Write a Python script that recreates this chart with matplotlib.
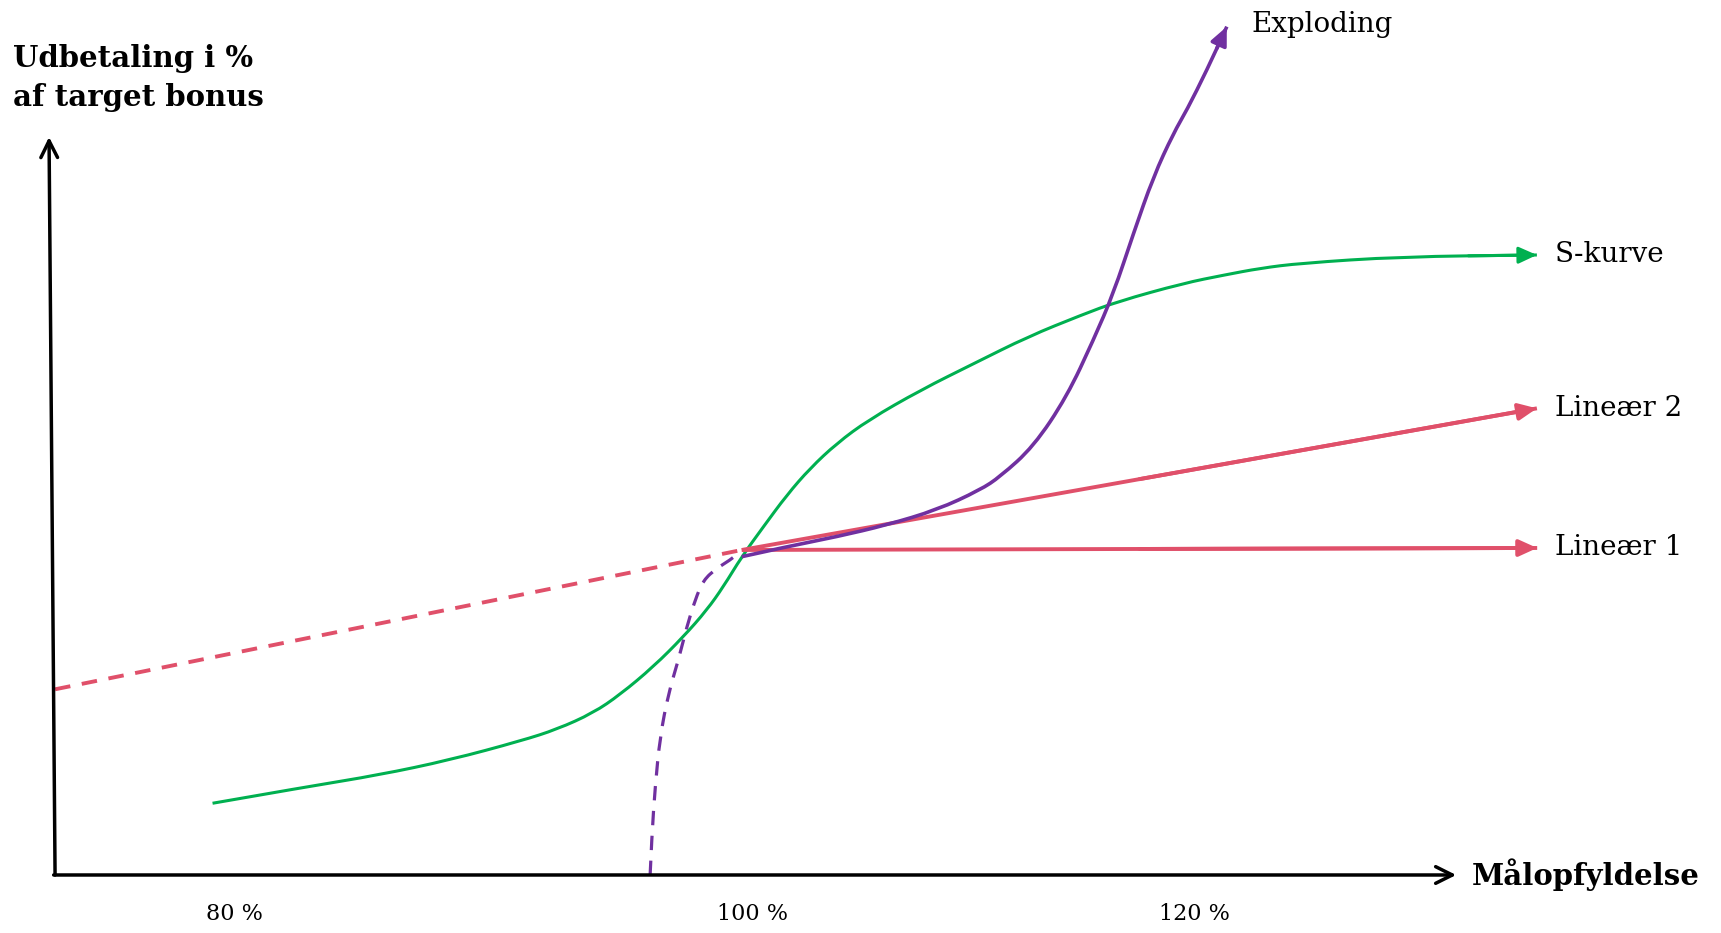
import matplotlib
matplotlib.use("Agg")
import matplotlib.pyplot as plt
from matplotlib.path import Path
from matplotlib.patches import PathPatch

plt.rcParams['font.family'] = ['DejaVu Serif']

# x: Målopfyldelse (x-axis length = 100), y: udbetaling (y-axis height = 100)
tick_pos = [12.8, 49.8, 81.3]
tick_labels = ['80 %', '100 %', '120 %']

dashed_x = [0.0, 49.01]
dashed_y = [25.16, 44.04]

lin1_x = [49.01, 105.78]
lin1_y = [44.04, 44.31]

lin2_x = [49.01, 105.76]
lin2_y = [44.04, 63.23]

s_x = [11.24, 17.99, 23.10, 28.19, 33.29, 35.83, 38.40, 40.33, 42.71, 44.85,
       46.52, 47.70, 49.01, 50.56, 52.23, 53.89, 55.80, 58.05, 61.79, 65.62,
       69.44, 73.26, 75.80, 80.54, 83.46, 86.01, 88.87, 96.00, 105.76]
s_y = [9.72, 11.96, 13.55, 15.59, 18.2, 19.75, 21.95, 24.45, 28.23, 32.29,
       35.91, 39.07, 43.13, 47.20, 51.49, 55.11, 58.50, 61.65, 65.72, 69.34,
       72.94, 75.88, 77.68, 80.18, 81.30, 82.21, 82.89, 83.78, 84.01]

exp_dash_x = [42.47, 42.59, 42.83, 43.18, 43.78, 44.49, 45.09, 45.68, 46.27,
              47.23, 48.18, 48.77, 49.01]
exp_dash_y = [0.0, 5.19, 11.96, 18.74, 24.62, 29.13, 33.64, 37.26, 39.97,
              41.56, 42.68, 43.59, 43.2]

exp_x = [49.01, 52.23, 55.80, 59.36, 62.93, 66.02, 67.45, 69.83, 72.21,
         74.11, 75.54, 76.97, 78.39, 79.82, 80.78, 82.21, 83.63]
exp_y = [43.13, 44.49, 45.84, 47.43, 49.46, 52.17, 53.97, 58.04, 64.81,
         72.49, 78.82, 86.95, 94.62, 100.50, 103.66, 109.08, 114.95]

green = '#00B050'
red = '#E0506A'
purple = '#7030A0'

fig = plt.figure(figsize=(17.21, 9.33), dpi=100)
ax = fig.add_axes([0, 0, 1, 1])
ax.set_xlim(-3.93, 118.9)
ax.set_ylim(-7.86, 118.56)
ax.axis('off')


def smooth_path(x, y):
    # quadratic bezier through the midpoints, points used as control points
    verts = [(x[0], y[0])]
    codes = [Path.MOVETO]
    for i in range(1, len(x) - 1):
        mid = ((x[i] + x[i + 1]) / 2, (y[i] + y[i + 1]) / 2)
        verts += [(x[i], y[i]), mid]
        codes += [Path.CURVE3, Path.CURVE3]
    verts.append((x[-1], y[-1]))
    codes.append(Path.LINETO)
    return Path(verts, codes)


def curve(x, y, color, lw, label=None, ls='-'):
    ax.add_patch(PathPatch(smooth_path(x, y), fill=False, edgecolor=color,
                           lw=lw, ls=ls, joinstyle='round', capstyle='butt'))
    if label is not None:
        start = ((x[-2] + x[-1]) / 2, (y[-2] + y[-1]) / 2)
        ax.annotate('', xy=(x[-1], y[-1]), xytext=start,
                    arrowprops=dict(arrowstyle='-|>,head_length=0.55,head_width=0.25',
                                    color=color, lw=lw, mutation_scale=20,
                                    shrinkA=0, shrinkB=0))
        ax.text(x[-1] + 1.3, y[-1], label, fontsize=20,
                ha='left', va='center')


# axes arrows
ax.annotate('', xy=(-0.43, 100), xytext=(0, 0),
            arrowprops=dict(arrowstyle='->', color='black', lw=2.5,
                            mutation_scale=30, shrinkA=0, shrinkB=0))
ax.annotate('', xy=(100, 0), xytext=(-0.1, 0),
            arrowprops=dict(arrowstyle='->', color='black', lw=2.5,
                            mutation_scale=30, shrinkA=0, shrinkB=0))

ax.plot(dashed_x, dashed_y, color=red, lw=2.8, ls=(0, (4, 3)))
curve(exp_dash_x, exp_dash_y, purple, 2.3, ls=(0, (4.5, 3.3)))
curve(s_x, s_y, green, 2.2, 'S-kurve')
curve(lin2_x, lin2_y, red, 2.8, 'Lineær 2')
curve(lin1_x, lin1_y, red, 2.8, 'Lineær 1')
curve(exp_x, exp_y, purple, 2.6, '')
ax.text(85.4, 115.3, 'Exploding', fontsize=20, ha='left', va='center')

for p, t in zip(tick_pos, tick_labels):
    ax.text(p, -5.3, t, fontsize=16, ha='center', va='center')

ax.text(101.1, 0, 'Målopfyldelse', fontsize=21, fontweight='bold',
        ha='left', va='center')
ax.text(-3.0, 108.0, 'Udbetaling i %\naf target bonus', fontsize=21,
        fontweight='bold', ha='left', va='center', linespacing=1.45)

fig.savefig('out.png', dpi=100)
